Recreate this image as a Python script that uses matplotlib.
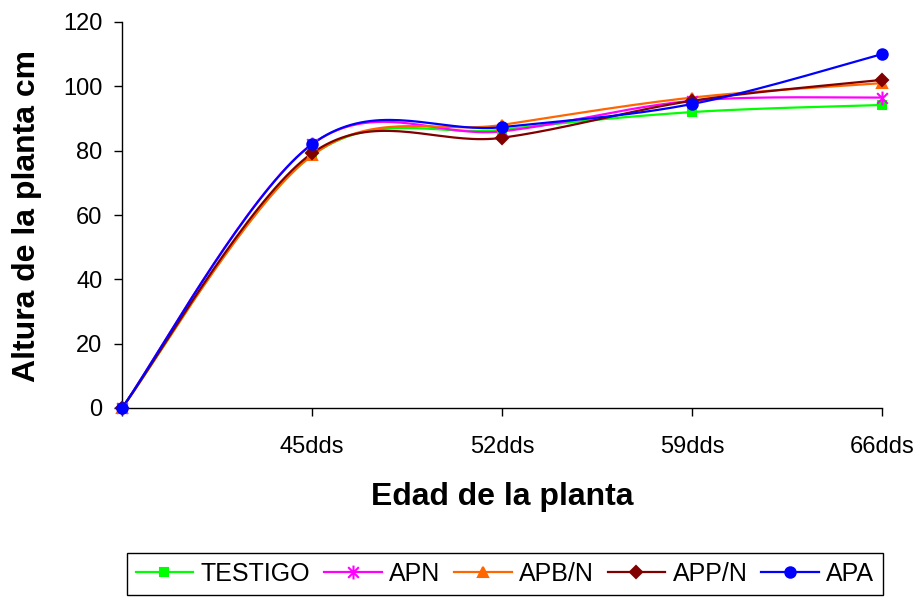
import numpy as np
import matplotlib.pyplot as plt
from matplotlib.lines import Line2D
from matplotlib.path import Path

plt.rcParams['font.family'] = ['Liberation Sans', 'DejaVu Sans']

# data
categories = ['', '45dds', '52dds', '59dds', '66dds']
testigo = [0, 78.5, 86.5, 92.0, 94.2]
apn = [0, 82.0, 86.0, 95.5, 96.5]
apb_n = [0, 78.5, 88.0, 96.5, 101.0]
app_n = [0, 79.2, 84.0, 95.5, 102.0]
apa = [0, 82.0, 87.3, 94.5, 110.0]
yticks = [0, 20, 40, 60, 80, 100, 120]

# Excel-like asterisk marker (x plus vertical bar)
asterisk = Path(
    [(-1, -1), (1, 1), (-1, 1), (1, -1), (0, -1.3), (0, 1.3)],
    [Path.MOVETO, Path.LINETO, Path.MOVETO, Path.LINETO, Path.MOVETO, Path.LINETO],
)

series = [
    ('TESTIGO', testigo, '#00FF00', 's', 6),
    ('APN', apn, '#FF00FF', asterisk, 10),
    ('APB/N', apb_n, '#FF6600', '^', 7),
    ('APP/N', app_n, '#800000', 'D', 6),
    ('APA', apa, '#0000FF', 'o', 7.5),
]


def excel_smooth(ax, xs, ys, n=40):
    """Bezier smoothing like Excel's 'smoothed line', done in screen space."""
    pts = ax.transData.transform(np.column_stack([xs, ys]))
    ext = np.vstack([pts[0], pts, pts[-1]])
    t = np.linspace(0, 1, n)[1:, None]
    out = [pts[:1]]
    for i in range(len(pts) - 1):
        p0, p3 = ext[i + 1], ext[i + 2]
        c1 = p0 + (ext[i + 2] - ext[i]) / 6
        c2 = p3 - (ext[i + 3] - ext[i + 1]) / 6
        seg = ((1 - t) ** 3 * p0 + 3 * (1 - t) ** 2 * t * c1
               + 3 * (1 - t) * t ** 2 * c2 + t ** 3 * p3)
        out.append(seg)
    return ax.transData.inverted().transform(np.vstack(out))


fig = plt.figure(figsize=(9.2, 5.97), dpi=100)
ax = fig.add_axes([122 / 920, 1 - 408 / 597, 760 / 920, 386 / 597])
x = np.arange(len(categories))
ax.set_xlim(0, len(categories) - 1)
ax.set_ylim(0, 120)

handles = []
for i, (label, vals, color, marker, ms) in enumerate(series):
    curve = excel_smooth(ax, x, vals)
    ax.plot(curve[:, 0], curve[:, 1], color=color, lw=1.6, zorder=2 + i,
            clip_on=False)
    mfc = 'none' if marker is asterisk else color
    ax.plot(x, vals, ls='none', marker=marker, ms=ms, color=color, mfc=mfc,
            mec=color, mew=1.5, zorder=10 + i, clip_on=False)
    handles.append(Line2D([], [], color=color, lw=1.6, marker=marker, ms=ms,
                          mfc=mfc, mec=color, mew=1.5))

ax.set_xticks(x)
ax.set_xticklabels(categories)
ax.set_yticks(yticks)
for side in ['top', 'right']:
    ax.spines[side].set_visible(False)
for side in ['left', 'bottom']:
    ax.spines[side].set_linewidth(1.0)
ax.tick_params(axis='both', direction='out', length=6, width=1.0, labelsize=17)
ax.tick_params(axis='x', pad=14)
ax.tick_params(axis='y', pad=8)

fig.text(27 / 920, 1 - 216 / 597, 'Altura de la planta cm', rotation=90,
         ha='center', va='center', fontsize=23, fontweight='bold')
fig.text(502 / 920, 1 - 497 / 597, 'Edad de la planta',
         ha='center', va='center', fontsize=23, fontweight='bold')

leg = fig.legend(handles, [s[0] for s in series], loc='center',
                 bbox_to_anchor=(505 / 920, 1 - 574 / 597), ncol=5, fontsize=18,
                 frameon=True, fancybox=False, edgecolor='black', framealpha=1,
                 handlelength=2.3, handletextpad=0.3, columnspacing=0.55,
                 borderpad=0.35, borderaxespad=0)
leg.get_frame().set_linewidth(1.0)

fig.savefig('out.png', dpi=100)
